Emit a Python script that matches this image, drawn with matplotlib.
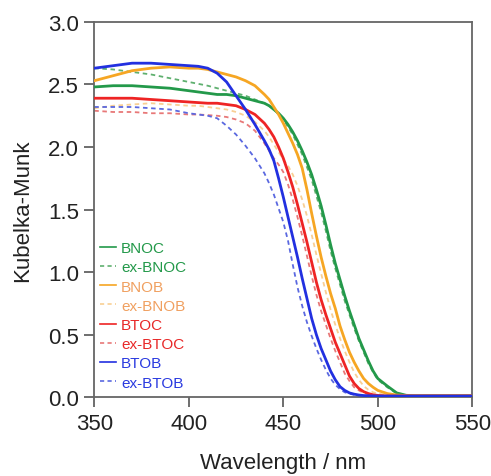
import numpy as np
import matplotlib
matplotlib.use('Agg')
import matplotlib.pyplot as plt

plt.rcParams['font.family'] = ['Liberation Sans', 'DejaVu Sans']

# wavelength grid (nm), finer where the absorption edge is
wl = [350, 360, 370, 380, 390, 400, 405, 410, 415, 420, 425, 430, 435, 440,
      442.5, 445, 447.5, 450, 452.5, 455, 457.5, 460, 462.5, 465, 467.5, 470,
      472.5, 475, 477.5, 480, 482.5, 485, 487.5, 490, 492.5, 495, 497.5, 500,
      505, 510, 515, 520, 530, 540, 550]

bnoc = [2.48, 2.49, 2.49, 2.48, 2.47, 2.45, 2.44, 2.43, 2.42, 2.42, 2.41, 2.39, 2.37, 2.35,
        2.33, 2.30, 2.27, 2.23, 2.18, 2.12, 2.05, 1.97, 1.88, 1.78, 1.66, 1.53,
        1.38, 1.22, 1.07, 0.94, 0.81, 0.69, 0.58, 0.47, 0.38, 0.29, 0.21, 0.15,
        0.09, 0.035, 0.016, 0.012, 0.012, 0.012, 0.012]
ex_bnoc = [2.63, 2.62, 2.60, 2.58, 2.55, 2.52, 2.505, 2.49, 2.47, 2.45, 2.43, 2.41, 2.38, 2.35,
           2.33, 2.30, 2.26, 2.22, 2.16, 2.10, 2.02, 1.94, 1.84, 1.74, 1.61, 1.48,
           1.33, 1.17, 1.03, 0.90, 0.77, 0.66, 0.55, 0.45, 0.36, 0.27, 0.20, 0.14,
           0.08, 0.03, 0.015, 0.012, 0.012, 0.012, 0.012]
bnob = [2.53, 2.57, 2.61, 2.63, 2.64, 2.63, 2.63, 2.62, 2.60, 2.58, 2.56, 2.53, 2.49, 2.42,
        2.38, 2.32, 2.26, 2.19, 2.11, 2.03, 1.94, 1.83, 1.66, 1.47, 1.29, 1.12,
        0.97, 0.83, 0.71, 0.57, 0.46, 0.36, 0.28, 0.21, 0.15, 0.11, 0.08, 0.055,
        0.03, 0.018, 0.014, 0.013, 0.013, 0.013, 0.013]
ex_bnob = [2.31, 2.33, 2.34, 2.35, 2.34, 2.33, 2.33, 2.32, 2.31, 2.30, 2.28, 2.25, 2.20, 2.13,
           2.08, 2.02, 1.96, 1.90, 1.85, 1.78, 1.69, 1.58, 1.45, 1.30, 1.14, 0.99,
           0.84, 0.70, 0.58, 0.47, 0.37, 0.28, 0.20, 0.14, 0.09, 0.06, 0.04, 0.03,
           0.018, 0.014, 0.012, 0.012, 0.012, 0.012, 0.012]
btoc = [2.39, 2.39, 2.39, 2.38, 2.37, 2.36, 2.355, 2.35, 2.35, 2.34, 2.33, 2.30, 2.26, 2.19,
        2.14, 2.08, 2.00, 1.91, 1.80, 1.68, 1.54, 1.39, 1.24, 1.08, 0.92, 0.78,
        0.66, 0.55, 0.44, 0.35, 0.26, 0.17, 0.11, 0.07, 0.045, 0.03, 0.02, 0.015,
        0.01, 0.01, 0.01, 0.01, 0.01, 0.01, 0.01]
ex_btoc = [2.29, 2.28, 2.28, 2.27, 2.27, 2.26, 2.26, 2.255, 2.25, 2.24, 2.22, 2.19, 2.13, 2.03,
           1.97, 1.91, 1.86, 1.80, 1.70, 1.58, 1.44, 1.29, 1.13, 0.97, 0.82, 0.69,
           0.58, 0.47, 0.37, 0.28, 0.19, 0.13, 0.08, 0.055, 0.035, 0.025, 0.018, 0.014,
           0.01, 0.01, 0.01, 0.01, 0.01, 0.01, 0.01]
btob = [2.63, 2.65, 2.67, 2.67, 2.66, 2.65, 2.645, 2.63, 2.59, 2.52, 2.41, 2.30, 2.18, 2.05,
        1.98, 1.89, 1.75, 1.60, 1.44, 1.28, 1.12, 0.95, 0.79, 0.63, 0.50, 0.39,
        0.30, 0.21, 0.14, 0.085, 0.055, 0.035, 0.025, 0.018, 0.014, 0.012, 0.011, 0.01,
        0.01, 0.01, 0.01, 0.01, 0.01, 0.01, 0.01]
ex_btob = [2.32, 2.32, 2.32, 2.31, 2.30, 2.27, 2.26, 2.25, 2.23, 2.17, 2.10, 2.01, 1.91, 1.79,
           1.71, 1.62, 1.51, 1.40, 1.25, 1.06, 0.88, 0.73, 0.60, 0.49, 0.39, 0.30,
           0.22, 0.15, 0.10, 0.065, 0.04, 0.028, 0.02, 0.015, 0.012, 0.011, 0.01, 0.01,
           0.01, 0.01, 0.01, 0.01, 0.01, 0.01, 0.01]

# name, values, line colour, solid?, legend text colour
series = [
    ('BNOC', bnoc, '#23994a', True, '#23994a'),
    ('ex-BNOC', ex_bnoc, '#5fb06f', False, '#23994a'),
    ('BNOB', bnob, '#f6a623', True, '#f0a060'),
    ('ex-BNOB', ex_bnob, '#f8cf94', False, '#f0a060'),
    ('BTOC', btoc, '#ee2424', True, '#e82828'),
    ('ex-BTOC', ex_btoc, '#e87878', False, '#e82828'),
    ('BTOB', btob, '#2230e0', True, '#2a3ae0'),
    ('ex-BTOB', ex_btob, '#5a68e0', False, '#2a3ae0'),
]

fig = plt.figure(figsize=(4.91, 4.77), dpi=100)
ax = fig.add_axes([0.192, 0.165, 0.770, 0.787])

for name, vals, col, solid, tcol in series:
    if solid:
        ax.plot(wl, vals, color=col, lw=2.0, label=name, zorder=3)
    else:
        ax.plot(wl, vals, color=col, lw=1.3, ls=(0, (2.5, 2)), label=name, zorder=2)

ax.set_xlim(350, 550)
ax.set_ylim(0, 3.0)
ax.set_xticks([350, 400, 450, 500, 550])
ax.set_yticks([0.0, 0.5, 1.0, 1.5, 2.0, 2.5, 3.0])
ax.set_yticklabels(['0.0', '0.5', '1.0', '1.5', '2.0', '2.5', '3.0'])
ax.set_xlabel('Wavelength / nm', fontsize=16, color='#222222', labelpad=13)
ax.set_ylabel('Kubelka-Munk', fontsize=16, color='#222222', labelpad=11)
ax.tick_params(direction='out', length=7, width=1.2, color='#555555',
               labelsize=16, labelcolor='#222222', pad=4)
ax.tick_params(top=False, right=False)
for sp in ax.spines.values():
    sp.set_color('#666666')
    sp.set_linewidth(1.3)

leg = ax.legend(loc='upper left', bbox_to_anchor=(0.0, 0.43), frameon=False,
                fontsize=11, handlelength=1.1, handletextpad=0.3,
                labelspacing=0.34, borderpad=0.0, borderaxespad=0.35)
for txt, s in zip(leg.get_texts(), series):
    txt.set_color(s[4])
for h in leg.get_lines():
    h.set_linewidth(1.2)

plt.savefig('out.png', dpi=100)
